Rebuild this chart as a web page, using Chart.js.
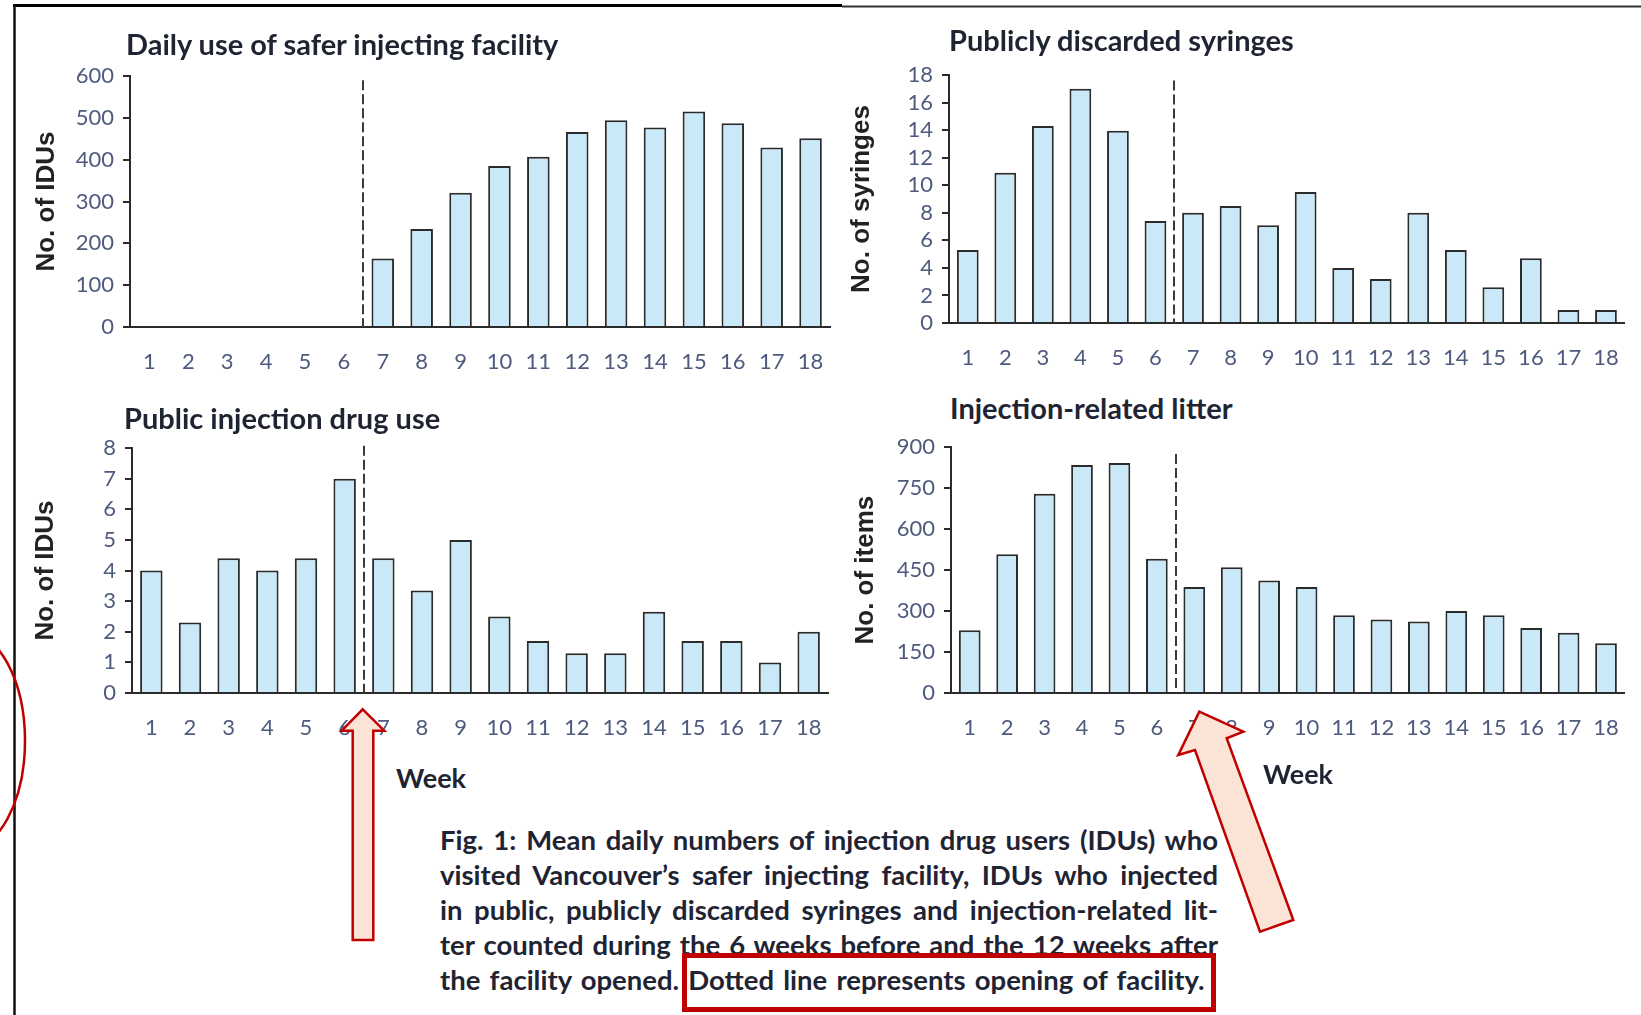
<!DOCTYPE html>
<html>
<head>
<meta charset="utf-8">
<script src="https://cdn.jsdelivr.net/npm/chart.js@4.4.1/dist/chart.umd.min.js"></script>
<style>
  body { margin: 0; background: #fff; }
  #page { position: relative; width: 1641px; height: 1015px; overflow: hidden; background: #fff; }
  canvas.panel { position: absolute; }
  .ttl { position: absolute; font: bold 29px Lato, sans-serif; color: #1f2433; line-height: 1; transform: translateY(-50%); white-space: nowrap; }
  .week { position: absolute; font: bold 27px Lato, sans-serif; color: #1f2433; line-height: 1; transform: translate(-50%, -50%); }
  #caption { position: absolute; left: 440px; top: 822px; width: 778px; font: bold 27.5px Lato, sans-serif; line-height: 35px; color: #1f2433; }
  #caption div { text-align: justify; text-align-last: justify; white-space: nowrap; }
  #caption div.last { text-align-last: left; word-spacing: 2.5px; }
  #overlay { position: absolute; left: 0; top: 0; pointer-events: none; }
</style>
</head>
<body>
<div id="page">
  <canvas class="panel" id="use"></canvas>
  <canvas class="panel" id="syr"></canvas>
  <canvas class="panel" id="pub"></canvas>
  <canvas class="panel" id="lit"></canvas>

  <div class="ttl" style="left:126px; top:43px;">Daily use of safer injecting facility</div>
  <div class="ttl" style="left:949px; top:39px;">Publicly discarded syringes</div>
  <div class="ttl" style="left:124px; top:417px;">Public injection drug use</div>
  <div class="ttl" style="left:950px; top:407px;">Injection-related litter</div>

  <div class="week" style="left:431px; top:777px;">Week</div>
  <div class="week" style="left:1298px; top:773px;">Week</div>

  <div id="caption">
    <div>Fig. 1: Mean daily numbers of injection drug users (IDUs) who</div>
    <div>visited Vancouver’s safer injecting facility, IDUs who injected</div>
    <div>in public, publicly discarded syringes and injection-related lit-</div>
    <div>ter counted during the 6 weeks before and the 12 weeks after</div>
    <div class="last">the facility opened. Dotted line represents opening of facility.</div>
  </div>

  <svg id="overlay" width="1641" height="1015">
    <line x1="13" y1="5.5" x2="842" y2="5.5" stroke="#000" stroke-width="3"/>
    <line x1="842" y1="6.5" x2="1641" y2="6.5" stroke="#333" stroke-width="2"/>
    <line x1="14.5" y1="4" x2="14.5" y2="1015" stroke="#111" stroke-width="2.5"/>
    <ellipse cx="-35" cy="741" rx="60" ry="110" fill="none" stroke="#c00000" stroke-width="2.5"/>
    <polygon points="362.7,709.3 384.3,730.7 373.3,730.7 373.3,940 352.7,940 352.7,730.7 341.7,730.7"
             fill="#fbe4d6" stroke="#c00000" stroke-width="2.5"/>
    <polygon points="1199.3,711.7 1243.3,731.7 1226.7,738.3 1293.3,920 1260,931.7 1195,750 1178.3,755"
             fill="#fbe4d6" stroke="#c00000" stroke-width="2.5"/>
    <rect x="684.5" y="955.5" width="529" height="54" fill="none" stroke="#c00000" stroke-width="5"/>
  </svg>
</div>

<script>
const weeks = ['1', '2', '3', '4', '5', '6', '7', '8', '9', '10', '11', '12', '13', '14', '15', '16', '17', '18'];

// mean daily IDUs visiting the facility (opened after week 6)
const facilityUse = [0, 0, 0, 0, 0, 0, 164, 234, 321, 385, 407, 466, 494, 477, 515, 487, 429, 451];
// publicly discarded syringes
const syringes = [5.3, 10.9, 14.3, 17.0, 13.95, 7.4, 8.0, 8.5, 7.1, 9.5, 4.0, 3.2, 8.0, 5.3, 2.6, 4.7, 0.95, 0.95];
// IDUs injecting in public
const publicUse = [4.0, 2.3, 4.4, 4.0, 4.4, 7.0, 4.4, 3.35, 5.0, 2.5, 1.7, 1.3, 1.3, 2.65, 1.7, 1.7, 1.0, 2.0];
// injection-related litter items
const litter = [230, 508, 730, 835, 842, 492, 388, 460, 412, 388, 285, 269, 262, 300, 285, 238, 221, 182];

const useTicks = {max: 600, step: 100};
const syrTicks = {max: 18, step: 2};
const pubTicks = {max: 8, step: 1};
const litTicks = {max: 900, step: 150};

const tickColor = '#4e5a7e';
const lineColor = '#2b2b2b';

// dashed line between week 6 and 7
const openingLine = {
  id: 'openingLine',
  afterDatasetsDraw(chart, args, opts) {
    const {ctx, scales: {x, y}} = chart;
    const px = Math.round((x.getPixelForValue(5) + x.getPixelForValue(6)) / 2);
    ctx.save();
    ctx.strokeStyle = '#3a3a3a';
    ctx.lineWidth = 2;
    ctx.setLineDash([10, 4]);
    ctx.beginPath();
    ctx.moveTo(px, y.getPixelForValue(opts.top));
    ctx.lineTo(px, y.bottom);
    ctx.stroke();
    ctx.restore();
  }
};

function panel(id, box, area, values, yt, yTitle, titleX, dashTop) {
  const cv = document.getElementById(id);
  cv.width = box.r - box.l;
  cv.height = box.b - box.t;
  cv.style.left = box.l + 'px';
  cv.style.top = box.t + 'px';
  const yw = area.l - box.l;
  const xh = box.b - area.b;

  new Chart(cv, {
    type: 'bar',
    data: {
      labels: weeks,
      datasets: [{
        data: values,
        backgroundColor: '#c9e9f8',
        borderColor: lineColor,
        borderWidth: 2,
        barPercentage: 0.58,
        categoryPercentage: 1
      }]
    },
    options: {
      responsive: false,
      animation: false,
      layout: {padding: {left: 0, top: area.t - box.t, right: box.r - area.r, bottom: 0}},
      plugins: {
        legend: {display: false},
        tooltip: {enabled: false},
        openingLine: {top: dashTop}
      },
      scales: {
        x: {
          grid: {display: false, drawTicks: false},
          border: {display: true, color: lineColor, width: 2},
          ticks: {color: tickColor, font: {family: 'Lato', size: 22}, padding: 22, maxRotation: 0, autoSkip: false},
          afterFit(s) { s.height = xh; }
        },
        y: {
          min: 0,
          max: yt.max,
          ticks: {stepSize: yt.step, autoSkip: false, color: tickColor, font: {family: 'Lato', size: 22}, padding: 9},
          grid: {drawOnChartArea: false, drawTicks: true, tickLength: 7, color: lineColor, lineWidth: 2},
          border: {display: true, color: lineColor, width: 2},
          title: {
            display: true,
            text: yTitle,
            color: '#222',
            font: {family: 'Liberation Sans', weight: 'bold', size: 26, lineHeight: 1},
            padding: {top: titleX - box.l - 13, bottom: 0}
          },
          afterFit(s) { s.width = yw; }
        }
      }
    },
    plugins: [openingLine]
  });
}

panel('use', {l: 20, t: 50, r: 850, b: 390}, {l: 130, t: 76, r: 830, b: 327},
      facilityUse, useTicks, 'No. of IDUs', 47, 590);
panel('syr', {l: 840, t: 50, r: 1641, b: 385}, {l: 949, t: 75, r: 1631, b: 323},
      syringes, syrTicks, 'No. of syringes', 862, 17.6);
panel('pub', {l: 20, t: 425, r: 850, b: 760}, {l: 132, t: 448, r: 828, b: 693},
      publicUse, pubTicks, 'No. of IDUs', 46, 8.07);
panel('lit', {l: 840, t: 425, r: 1641, b: 760}, {l: 951, t: 443, r: 1633, b: 693},
      litter, litTicks, 'No. of items', 866, 875);
</script>
</body>
</html>
